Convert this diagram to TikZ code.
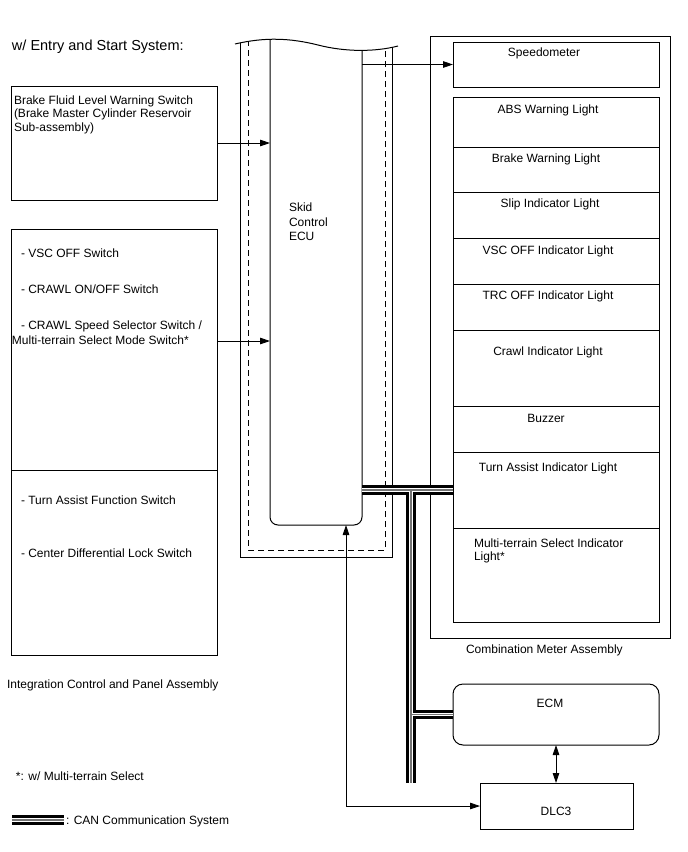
\documentclass[tikz,border=0pt]{standalone}
\usepackage{fontspec}
\setmainfont{Liberation Sans}
\usetikzlibrary{arrows.meta}
\newcommand\mybox[6][]{\node[box,#1,minimum width={(#5-#3)*1pt},minimum height={(#6-#4)*1pt}] (#2) at ({(#3+#5)/2},{(#4+#6)/2}) {};}
\begin{document}
\begin{tikzpicture}[x=1pt,y=-1pt,line width=1pt,
  box/.style={draw,line width=1pt,inner sep=0pt,outer sep=0pt},
  txt/.style={inner sep=0pt,outer sep=0pt,font=\fontsize{12}{13.5}\selectfont},
  lt/.style={txt,anchor=base west},
  ct/.style={txt,anchor=base},
  tip/.tip={Triangle[length=10pt,width=6.5pt]},
  arr/.style={-tip,line width=0.8pt},
  darr/.style={tip-tip,line width=0.8pt},
  dsh/.style={dash pattern=on 6pt off 4pt,line width=1pt}]
\useasboundingbox (0,0) rectangle (688,852);

% --- boxes ---
\mybox{cmb}{430}{36}{670}{638}
\mybox{speedo}{453}{42}{659}{87}
\mybox{abs}{453}{97}{659}{147}
\mybox{brw}{453}{147}{659}{192}
\mybox{slip}{453}{192}{659}{238}
\mybox{vsc}{453}{238}{659}{284}
\mybox{trc}{453}{284}{659}{330}
\mybox{crawl}{453}{330}{659}{406}
\mybox{buzz}{453}{406}{659}{452}
\mybox{turn}{453}{452}{659}{528}
\mybox{multi}{453}{528}{659}{622}
\mybox{brake}{11}{86}{217}{200}
\mybox{intA}{11}{229}{217}{470}
\mybox{intB}{11}{470}{217}{655}
\mybox[rounded corners=10pt]{ecm}{453}{684}{659}{745}
\mybox{dlc}{480}{783}{633}{829}
\mybox[draw=none]{ecu}{270}{42}{362}{525}

% --- ECU with wavy cut top ---
\begin{scope}
\clip (235,44) .. controls (265,37) and (290,38) .. (318,45) .. controls (345,52) and (375,52) .. (398,46) -- (398,600) -- (235,600) -- cycle;
\draw (240,30) -- (240,557) -- (392,557) -- (392,30);
\draw[dsh] (248,30) -- (248,550) -- (385,550) -- (385,30);
\draw[rounded corners=8pt] (270,30) -- (270,525) -- (362,525) -- (362,30);
\end{scope}
\draw (235,44) .. controls (265,37) and (290,38) .. (318,45) .. controls (345,52) and (375,52) .. (398,46);

% --- coordinates ---
\coordinate (intArr) at (intA.east |- 0,341);
\coordinate (canT) at (411,0 |- turn.west);
\coordinate (canB) at (411,783);
\coordinate (dlcbend) at (346,0 |- dlc.west);
\coordinate (lg1) at (12,820);
\coordinate (lg2) at (64,820);

% --- CAN bus ---
\newcommand\canpath{(ecu.east |- turn.west) -- (turn.west) (canT) -- (canB) (ecm.west -| canT) -- (ecm.west) (lg1) -- (lg2)}
\draw[line width=9.5pt] \canpath;
\draw[white,line width=3.8pt] \canpath;
\draw[black!55,line width=1.1pt] \canpath;

% --- arrows ---
\draw[arr] (ecu.east |- speedo.west) -- (speedo.west);
\draw[arr] (brake.east) -- (brake.east -| ecu.west);
\draw[arr] (intArr) -- (intArr -| ecu.west);
\draw[darr] (ecu.south -| dlcbend) -- (dlcbend) -- (dlc.west);
\draw[darr] (ecm.south) -- (ecm.south |- dlc.north);

% --- texts ---
\node[lt,font=\fontsize{14.5}{16}\selectfont] (t0) at (12,50) {w/ Entry and Start System:};
\node[lt] (b1) at (14,104) {Brake Fluid Level Warning Switch};
\node[lt] (b2) at (14,117.5) {(Brake Master Cylinder Reservoir};
\node[lt] (b3) at (14,131) {Sub-assembly)};
\node[lt] (i1) at (21,257) {- VSC OFF Switch};
\node[lt] (i2) at (21,293) {- CRAWL ON/OFF Switch};
\node[lt] (i3) at (21,329) {- CRAWL Speed Selector Switch /};
\node[lt] (i4) at (12,344) {Multi-terrain Select Mode Switch*};
\node[lt] (i5) at (21,504) {- Turn Assist Function Switch};
\node[lt] (i6) at (21,557) {- Center Differential Lock Switch};
\node[lt] (icp) at (7,688) {Integration Control and Panel Assembly};
\node[lt] (note) at (16,780) {*: w/ Multi-terrain Select};
\node[lt] (lgt) at (66,824) {: CAN Communication System};
\node[lt] (e1) at (289,211) {Skid};
\node[lt] (e2) at (289,226) {Control};
\node[lt] (e3) at (289,240.5) {ECU};
\node[ct] (ts) at (544,56) {Speedometer};
\node[ct] (ta) at (548,113) {ABS Warning Light};
\node[ct] (tb) at (546,162) {Brake Warning Light};
\node[ct] (tsl) at (550,207) {Slip Indicator Light};
\node[ct] (tv) at (548,254) {VSC OFF Indicator Light};
\node[ct] (tt) at (548,299) {TRC OFF Indicator Light};
\node[ct] (tc) at (548,355) {Crawl Indicator Light};
\node[ct] (tbz) at (546,422) {Buzzer};
\node[ct] (tta) at (548,471) {Turn Assist Indicator Light};
\node[lt] (tm1) at (474,547) {Multi-terrain Select Indicator};
\node[lt] (tm2) at (474,560) {Light*};
\node[lt] (tcm) at (466,653) {Combination Meter Assembly};
\node[ct] (tecm) at (550,707) {ECM};
\node[ct] (tdlc) at (556,815) {DLC3};
\end{tikzpicture}
\end{document}
